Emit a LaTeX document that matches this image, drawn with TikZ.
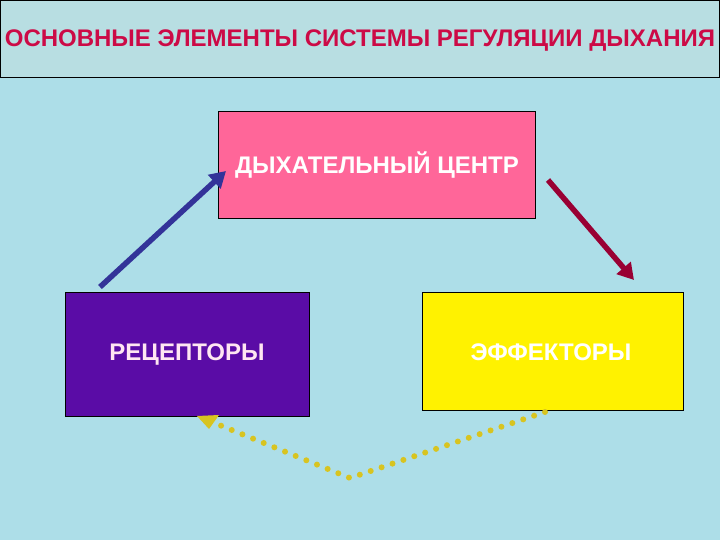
\documentclass[tikz,border=0pt]{standalone}
\usepackage{fontspec}
\setmainfont{Liberation Sans}
\usetikzlibrary{arrows.meta}
\begin{document}
\begin{tikzpicture}[x=1pt,y=-1pt,
  box/.style={draw=black,line width=0.8pt,inner sep=0pt,anchor=north west},
  lbl/.style={font=\bfseries\fontsize{24}{28}\selectfont},
  solidarrow/.style={line width=5.5pt,-{Triangle[length=16pt,width=18pt]}},
  dotarrow/.style={line width=6pt,line cap=round,dash pattern=on 0pt off 11.5pt,draw=dotyellow},
]
\definecolor{bg}{HTML}{ADDEE8}
\definecolor{titlebg}{HTML}{B8DEE2}
\definecolor{titletext}{HTML}{CC0A46}
\definecolor{pinkbox}{HTML}{FF6699}
\definecolor{purplebox}{HTML}{5A0CA6}
\definecolor{bluearrow}{HTML}{333399}
\definecolor{redarrow}{HTML}{990033}
\definecolor{dotyellow}{HTML}{D8C420}
\definecolor{lighttext}{HTML}{FFE6F2}
\useasboundingbox (0,0) rectangle (720,540);
\fill[bg] (0,0) rectangle (720,540);
\node[box,fill=titlebg,minimum width=719pt,minimum height=77pt] (title) at (0.4,0.4) {};
\node[font=\bfseries\fontsize{24}{28}\selectfont,text=titletext] (titletxt) at (360,41) {ОСНОВНЫЕ ЭЛЕМЕНТЫ СИСТЕМЫ РЕГУЛЯЦИИ ДЫХАНИЯ};
\node[box,fill=pinkbox,minimum width=317pt,minimum height=107pt] (center) at (218,111) {};
\node[lbl,text=white] (centertxt) at (377,165) {ДЫХАТЕЛЬНЫЙ ЦЕНТР};
\node[box,fill=purplebox,minimum width=244pt,minimum height=124pt] (rec) at (65,292) {};
\node[lbl,text=lighttext] (rectxt) at (187,355) {РЕЦЕПТОРЫ};
\node[box,fill=yellow,minimum width=261pt,minimum height=118pt] (eff) at (422,292) {};
\node[lbl,text=white] (efftxt) at (551,352) {ЭФФЕКТОРЫ};
\coordinate (b1) at (100,287);
\coordinate (b2) at (226,171);
\coordinate (r1) at (548,180);
\coordinate (r2) at (634,280);
\coordinate (d1) at (545,412);
\coordinate (d2) at (350,478);
\coordinate (d3) at (212,422);
\coordinate (d4) at (197,416);
\draw[solidarrow,draw=bluearrow,fill=bluearrow] (b1) -- (b2);
\draw[solidarrow,draw=redarrow,fill=redarrow] (r1) -- (r2);
\draw[dotarrow] (d1) -- (d2) -- (d3);
\fill[dotyellow] (d4) -- ++(22,-1) -- ++(-10,14) -- cycle;
\end{tikzpicture}
\end{document}
